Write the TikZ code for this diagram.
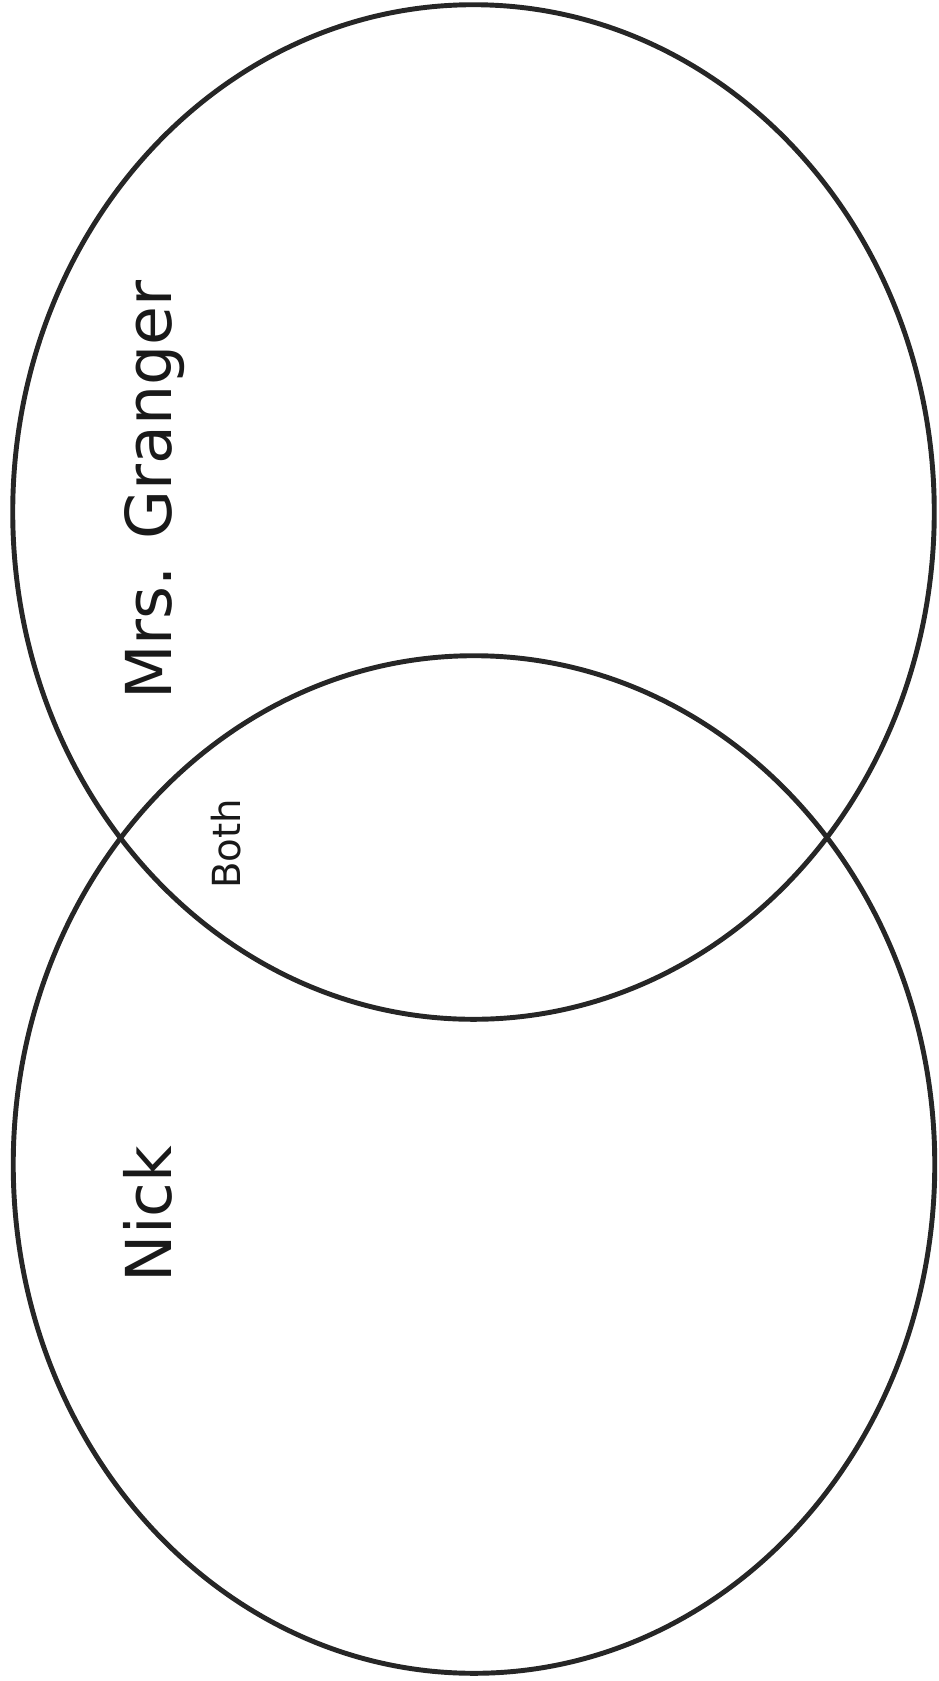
\documentclass[tikz,border=0pt]{standalone}
\usepackage{fontspec}
\setmainfont{DejaVu Sans}
\usetikzlibrary{shapes.geometric}

\begin{document}
\begin{tikzpicture}[
  x=0.01cm, y=-0.01cm,
  vset/.style={draw=black!85, ellipse, line width=1.4pt, inner sep=0pt, minimum width=9.21cm},
  setname/.style={rotate=90, anchor=base, font=\fontsize{18}{21}\selectfont, text=black!90},
  bothname/.style={rotate=90, anchor=base, font=\fontsize{11}{13}\selectfont, text=black!90}
]
\useasboundingbox (0,0) rectangle (938,1681);

% Two overlapping sets
\node[vset, minimum height=10.14cm] (granger) at (473.5,512) {};
\node[vset, minimum height=10.17cm] (nick) at (474,1164.5) {};

% Labels
\node[setname] (lgranger) at (171,490) {Mrs. Granger};
\node[setname] (lnick) at (171,1214) {Nick};
\node[bothname] (lboth) at (240,844) {Both};

\end{tikzpicture}
\end{document}
